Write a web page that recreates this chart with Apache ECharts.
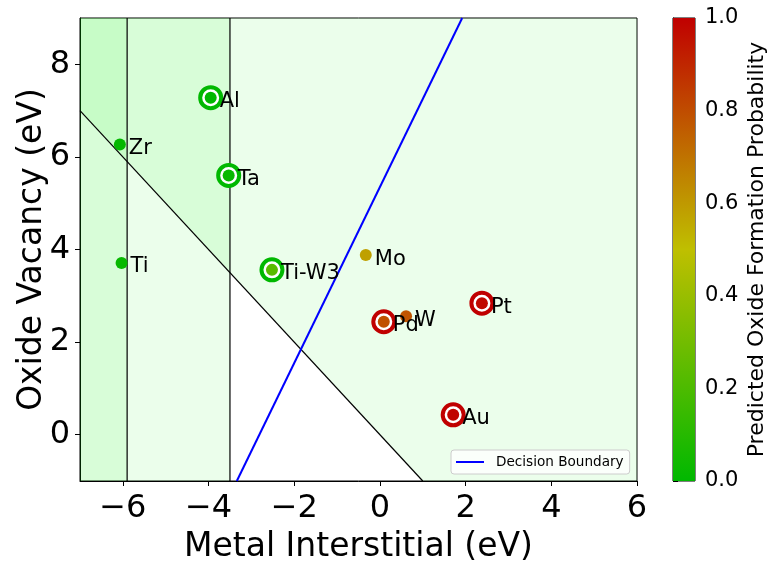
<!DOCTYPE html>
<html>
<head>
<meta charset="utf-8">
<script src="https://cdn.jsdelivr.net/npm/echarts@6/dist/echarts.min.js"></script>
<style>html,body{margin:0;padding:0;background:#fff;}#c{width:779px;height:572px;}</style>
</head>
<body>
<div id="c"></div>
<script>
// ---- data ----
const names = ['Zr', 'Ti', 'Al', 'Ta', 'Ti-W3', 'Mo', 'W', 'Pd', 'Pt', 'Au'];
const metalInterstitial = [-6.07, -6.03, -3.95, -3.53, -2.52, -0.33, 0.61, 0.09, 2.38, 1.71];
const oxideVacancy = [6.27, 3.71, 7.28, 5.60, 3.56, 3.88, 2.56, 2.44, 2.84, 0.43];
const probability = [0.01, 0.02, 0.0, 0.02, 0.23, 0.58, 0.78, 0.79, 0.98, 0.99];
// known class (ring) : null = no ring, 0 = no oxide, 1 = oxide
const knownClass = [null, null, 0, 0, 0, null, null, 1, 1, 1];

const boundaryLine = [[-3.34, -1], [1.92, 9]];
const diagonalLine = [[-7, 7], [1, -1]];
const verticalLine1 = [[-5.9, -1], [-5.9, 9]];
const verticalLine2 = [[-3.5, -1], [-3.5, 9]];
const shadeRegions = [
  [[-7, -1], [-5.9, -1], [-5.9, 9], [-7, 9]],
  [[-7, -1], [-3.5, -1], [-3.5, 9], [-7, 9]],
  [[-7, 7], [1, -1], [6, -1], [6, 9], [-7, 9]]
];
const xTicks = [-6, -4, -2, 0, 2, 4, 6];
const yTicks = [0, 2, 4, 6, 8];
const cbTicks = [0, 0.2, 0.4, 0.6, 0.8, 1.0];
const cmapColors = ['#00b800', '#bfbf00', '#c00000'];

// ---- chart ----
const FONT = 'DejaVu Sans';
const minus = v => String(v).replace('-', '\u2212');

const dotData = names.map((n, i) => [metalInterstitial[i], oxideVacancy[i], probability[i], n]);
const ringData = [];
names.forEach((n, i) => {
  if (knownClass[i] !== null) {
    ringData.push({
      value: [metalInterstitial[i], oxideVacancy[i]],
      itemStyle: { borderColor: knownClass[i] === 1 ? cmapColors[2] : cmapColors[0] }
    });
  }
});

const chart = echarts.init(document.getElementById('c'), null, { renderer: 'canvas' });
chart.setOption({
  animation: false,
  backgroundColor: '#ffffff',
  textStyle: { fontFamily: FONT },
  grid: [
    { left: 80, right: 142, top: 18, bottom: 91, containLabel: false, outerBoundsMode: 'none', show: true, borderColor: '#000', borderWidth: 1, backgroundColor: 'transparent' },
    { left: 673, width: 22, top: 18, bottom: 91, containLabel: false, outerBoundsMode: 'none', show: true, borderColor: '#000', borderWidth: 1, backgroundColor: 'transparent' }
  ],
  xAxis: [
    {
      type: 'value', gridIndex: 0, min: -7, max: 6,
      name: 'Metal Interstitial (eV)', nameLocation: 'middle', nameGap: 50, nameMoveOverlap: false,
      nameTextStyle: { fontSize: 33, color: '#000', fontFamily: FONT },
      axisLine: { show: true, onZero: false, lineStyle: { color: '#000', width: 1 } },
      axisTick: { show: true, length: 5, customValues: xTicks, lineStyle: { color: '#000' } },
      axisLabel: { customValues: xTicks, fontSize: 32, color: '#000', margin: 12, formatter: v => minus(v), fontFamily: FONT },
      splitLine: { show: false }
    },
    {
      type: 'value', gridIndex: 1, min: 0, max: 1, show: false
    }
  ],
  yAxis: [
    {
      type: 'value', gridIndex: 0, min: -1, max: 9,
      name: 'Oxide Vacancy (eV)', nameLocation: 'middle', nameGap: 31, nameRotate: 90, nameMoveOverlap: false,
      nameTextStyle: { fontSize: 33, color: '#000', fontFamily: FONT },
      axisLine: { show: true, onZero: false, lineStyle: { color: '#000', width: 1 } },
      axisTick: { show: true, length: 5, customValues: yTicks, lineStyle: { color: '#000' } },
      axisLabel: { customValues: yTicks, fontSize: 32, color: '#000', margin: 10, formatter: v => minus(v), fontFamily: FONT },
      splitLine: { show: false }
    },
    {
      type: 'value', gridIndex: 1, min: 0, max: 1, position: 'right',
      name: 'Predicted Oxide Formation Probability', nameLocation: 'middle', nameGap: 51, nameRotate: 90, nameMoveOverlap: false,
      nameTextStyle: { fontSize: 22, color: '#000', fontFamily: FONT },
      axisLine: { show: true, lineStyle: { color: '#000', width: 1 } },
      axisTick: { show: true, length: 5, customValues: cbTicks, lineStyle: { color: '#000' } },
      axisLabel: { customValues: cbTicks, fontSize: 21, color: '#000', margin: 10, formatter: v => v.toFixed(1), fontFamily: FONT },
      splitLine: { show: false }
    }
  ],
  visualMap: [{
    show: false, type: 'continuous', min: 0, max: 1, dimension: 2, seriesIndex: 8,
    inRange: { color: cmapColors }
  }],
  legend: {
    data: [{ name: 'Decision Boundary', icon: 'rect' }],
    left: 451, top: 450,
    padding: [5, 6, 5, 5],
    itemWidth: 28, itemHeight: 2,
    backgroundColor: 'rgba(255,255,255,0.8)',
    borderColor: '#cccccc', borderWidth: 1, borderRadius: 3,
    textStyle: { fontSize: 13.6, color: '#000', fontFamily: FONT, padding: [0, 0, 0, 7], lineHeight: 14 }
  },
  series: [
    {
      type: 'custom', xAxisIndex: 0, yAxisIndex: 0, z: 1, silent: true,
      data: shadeRegions.map((r, i) => [i, 0]),
      renderItem: function (params, api) {
        const poly = shadeRegions[params.dataIndex].map(p => api.coord(p));
        return { type: 'polygon', shape: { points: poly }, style: { fill: 'rgba(0,240,0,0.08)' } };
      }
    },
    {
      type: 'custom', xAxisIndex: 1, yAxisIndex: 1, z: 1, silent: true,
      data: [[0, 0]],
      renderItem: function (params, api) {
        const p0 = api.coord([0, 0]);
        const p1 = api.coord([1, 1]);
        return {
          type: 'rect',
          shape: { x: p0[0], y: p1[1], width: p1[0] - p0[0], height: p0[1] - p1[1] },
          style: {
            fill: {
              type: 'linear', x: 0, y: 1, x2: 0, y2: 0,
              colorStops: cmapColors.map((c, i) => ({ offset: i / (cmapColors.length - 1), color: c }))
            }
          }
        };
      }
    },
    { type: 'line', name: 'diag', data: diagonalLine, showSymbol: false, symbol: 'none', z: 2, lineStyle: { color: '#000', width: 1.2 }, itemStyle: { color: '#000' } },
    { type: 'line', name: 'v1', data: verticalLine1, showSymbol: false, symbol: 'none', z: 2, lineStyle: { color: '#000', width: 1.2 }, itemStyle: { color: '#000' } },
    { type: 'line', name: 'v2', data: verticalLine2, showSymbol: false, symbol: 'none', z: 2, lineStyle: { color: '#000', width: 1.2 }, itemStyle: { color: '#000' } },
    { type: 'line', name: 'Decision Boundary', data: boundaryLine, showSymbol: false, symbol: 'none', z: 3, lineStyle: { color: '#0000ff', width: 2 }, itemStyle: { color: '#0000ff' } },
    { type: 'scatter', name: 'placeholder', data: [], z: 3 },
    {
      type: 'scatter', name: 'rings', data: ringData, symbolSize: 21, z: 4,
      itemStyle: { color: '#ffffff', borderWidth: 4, opacity: 1 }
    },
    {
      type: 'scatter', name: 'dots', data: dotData, symbolSize: 12, z: 5,
      itemStyle: { opacity: 1 },
      label: {
        show: true, position: 'right', distance: 3, offset: [0, 4],
        formatter: p => p.value[3], fontSize: 21, color: '#000', fontFamily: FONT
      }
    }
  ]
});
</script>
</body>
</html>
